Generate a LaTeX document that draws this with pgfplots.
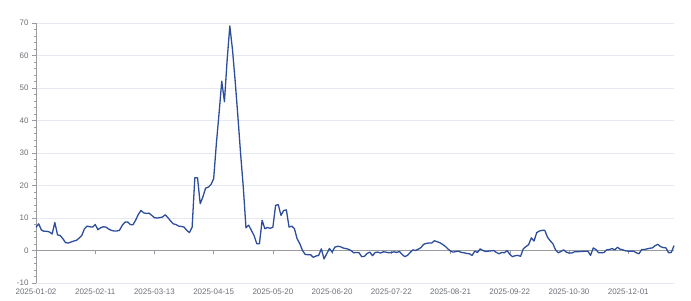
\documentclass[border=0pt]{standalone}
\usepackage{pgfplots}
\pgfplotsset{compat=1.18}
\usepackage{pgfplotstable}
\usepackage{fontspec}
\setmainfont{Liberation Sans}
\definecolor{lblue}{HTML}{2C4C9C}
\definecolor{lgray}{HTML}{6E7079}
\definecolor{gridc}{HTML}{E6E9F0}
\pgfplotstableread{
i v
0 7.2
1 8.2
2 6.3
3 5.9
4 5.9
5 5.7
6 5.1
7 8.6
8 4.8
9 4.6
10 3.6
11 2.4
12 2.3
13 2.6
14 2.9
15 3.1
16 3.8
17 4.6
18 6.7
19 7.5
20 7.3
21 7.2
22 8.0
23 6.4
24 7.0
25 7.3
26 7.2
27 6.6
28 6.2
29 6.0
30 6.0
31 6.2
32 7.7
33 8.7
34 8.8
35 8.0
36 7.9
37 9.3
38 11.1
39 12.3
40 11.6
41 11.4
42 11.5
43 10.8
44 10.1
45 10.0
46 10.1
47 10.3
48 11.0
49 10.1
50 9.1
51 8.2
52 8.0
53 7.5
54 7.4
55 7.2
56 6.2
57 5.5
58 7.2
59 22.4
60 22.4
61 14.4
62 16.5
63 19.2
64 19.5
65 20.3
66 22.1
67 32.9
68 42.2
69 52.1
70 45.8
71 58.6
72 69.1
73 61.7
74 52.0
75 41.2
76 29.8
77 19.5
78 7.0
79 7.8
80 6.2
81 4.6
82 2.1
83 2.1
84 9.3
85 6.7
86 7.1
87 6.8
88 7.2
89 13.9
90 14.1
91 10.8
92 12.3
93 12.5
94 7.2
95 7.5
96 6.7
97 3.6
98 2.1
99 0.0
100 -1.2
101 -1.3
102 -1.3
103 -2.1
104 -1.7
105 -1.5
106 0.5
107 -2.6
108 -1.0
109 0.6
110 -0.5
111 1.0
112 1.3
113 1.2
114 0.8
115 0.6
116 0.4
117 0.0
118 -0.7
119 -0.6
120 -0.7
121 -1.9
122 -1.8
123 -0.9
124 -0.5
125 -1.6
126 -0.6
127 -0.5
128 -0.8
129 -0.4
130 -0.5
131 -0.7
132 -0.6
133 -0.4
134 -0.6
135 -0.3
136 -1.2
137 -1.9
138 -1.5
139 -0.6
140 0.2
141 0.0
142 0.4
143 0.9
144 1.9
145 2.2
146 2.3
147 2.3
148 3.0
149 2.7
150 2.4
151 1.9
152 1.3
153 0.5
154 -0.2
155 -0.5
156 -0.3
157 -0.2
158 -0.6
159 -0.7
160 -0.9
161 -1.0
162 -1.5
163 -0.2
164 -0.6
165 0.5
166 0.0
167 -0.3
168 -0.2
169 -0.1
170 0.0
171 -0.6
172 -1.0
173 -0.6
174 -0.7
175 0.0
176 -1.2
177 -1.9
178 -1.6
179 -1.5
180 -1.8
181 0.5
182 1.2
183 1.8
184 3.9
185 2.9
186 5.5
187 6.0
188 6.2
189 6.2
190 4.1
191 3.0
192 2.1
193 0.2
194 -0.7
195 -0.3
196 0.2
197 -0.5
198 -0.8
199 -0.8
200 -0.4
201 -0.4
202 -0.3
203 -0.3
204 -0.2
205 -0.2
206 -1.5
207 0.8
208 0.3
209 -0.7
210 -0.7
211 -0.6
212 0.2
213 0.3
214 0.6
215 0.2
216 1.0
217 0.4
218 0.2
219 -0.1
220 -0.2
221 -0.2
222 -0.2
223 -0.7
224 -1.0
225 0.3
226 0.3
227 0.5
228 0.7
229 0.8
230 1.5
231 1.9
232 1.2
233 0.9
234 0.8
235 -0.7
236 -0.6
237 1.5
}\datatable
\begin{document}
\begin{tikzpicture}
\useasboundingbox (0,0) rectangle (691bp,301bp);
\begin{axis}[
  at={(36bp,18bp)}, anchor=south west,
  scale only axis, width=638bp, height=260bp,
  xmin=0, xmax=237, ymin=-10, ymax=70,
  axis x line=middle, axis y line=left,
  axis line style={-, lgray!70, line width=0.6pt},
  hide obscured x ticks=false, hide obscured y ticks=false,
  xtick={0,22,44,66,88,110,132,154,176,198,220},
  xticklabels={2025-01-02,2025-02-11,2025-03-13,2025-04-15,2025-05-20,2025-06-20,2025-07-22,2025-08-21,2025-09-22,2025-10-30,2025-12-01},
  xticklabel style={yshift=-31bp, font=\fontsize{8}{9}\selectfont, text=lgray},
  ytick={-10,0,...,70},
  minor y tick num=4,
  yticklabel style={font=\fontsize{8}{9}\selectfont, text=lgray},
  /pgf/number format/assume math mode=true,
  tick align=outside,
  major tick length=4bp, minor tick length=2bp,
  tick style={lgray!70, line width=0.5pt},
  ymajorgrids, grid style={gridc, line width=0.6pt},
  clip=false,
]
\addplot[lblue, line width=1.3pt, line join=round, mark=none] table[x=i, y=v] {\datatable};
\end{axis}
\end{tikzpicture}
\end{document}
